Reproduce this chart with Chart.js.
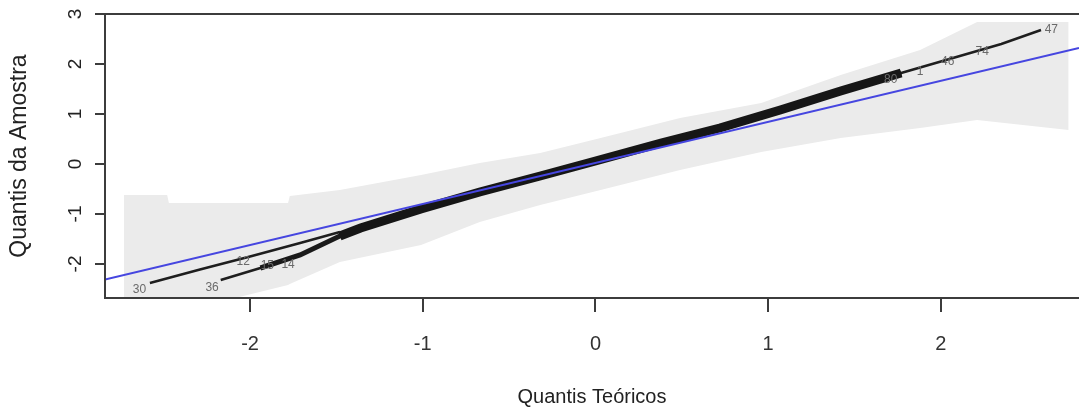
<!DOCTYPE html>
<html>
<head>
<meta charset="utf-8">
<script src="https://cdn.jsdelivr.net/npm/chart.js@4.4.1/dist/chart.umd.min.js"></script>
<style>
  html, body { margin: 0; padding: 0; background: #fff; }
  #wrap { width: 1079px; height: 412px; position: relative; }
</style>
</head>
<body>
<div id="wrap"><canvas id="qqChart"></canvas></div>
<script>
// marcas dos eixos
var xTicks = [-2, -1, 0, 1, 2];
var yTicks = [-2, -1, 0, 1, 2, 3];

// envelope de confiança
var bandaX =        [-2.73, -2.48, -2.47, -2.11, -1.78, -1.77, -1.48, -1.01, -0.67, -0.32, 0.03, 0.49, 0.96, 1.42, 1.88, 2.21, 2.74];
var bandaSuperior = [-0.62, -0.62, -0.78, -0.78, -0.78, -0.64, -0.52, -0.22, 0.02, 0.22, 0.52, 0.92, 1.22, 1.78, 2.28, 2.84, 2.84];
var bandaInferior = [-2.9, -2.9, -2.9, -2.7, -2.42, -2.40, -1.96, -1.62, -1.16, -0.82, -0.52, -0.12, 0.24, 0.52, 0.72, 0.88, 0.68];

// reta de referência
var retaX = [-2.84, 2.80];
var retaY = [-2.31, 2.32];

// quantis da amostra
var grupoAX = [-2.58, -2.29, -2.00, -1.71, -1.48];
var grupoAY = [-2.38, -2.11, -1.85, -1.58, -1.36];
var grupoBX = [-2.17, -1.94, -1.71, -1.48, -1.36];
var grupoBY = [-2.32, -2.08, -1.82, -1.44, -1.28];
var amostraX = [-1.36, -1.01, -0.67, -0.32, 0.00, 0.38, 0.72, 1.07, 1.42, 1.77, 2.11, 2.35, 2.58];
var amostraY = [-1.28, -0.90, -0.56, -0.24, 0.06, 0.42, 0.72, 1.08, 1.46, 1.82, 2.16, 2.40, 2.68];

// identificação dos pontos extremos
var rotulos = ['30', '36', '12', '15', '14', '80', '1', '46', '74', '47'];
var rotuloX = [-2.64, -2.22, -2.04, -1.90, -1.78, 1.71, 1.88, 2.04, 2.24, 2.64];
var rotuloY = [-2.52, -2.48, -1.96, -2.04, -2.02, 1.68, 1.84, 2.04, 2.24, 2.68];

function pares(xs, ys) {
    return xs.map(function (x, i) { return { x: x, y: ys[i] }; });
}

var corEixo = '#3c3c3c';
var fonteNarrow = "'Liberation Sans Narrow', 'Liberation Sans', Arial, sans-serif";
var fonteBase = "'Liberation Sans', Arial, sans-serif";

// trecho denso: onde os pontos se sobrepõem
var densoX = grupoBX.slice(1, 4).concat(amostraX.slice(0, 10));
var densoY = grupoBY.slice(1, 4).concat(amostraY.slice(0, 10));

var molduraPlugin = {
    id: 'moldura',
    afterDatasetsDraw: function (chart) {
        var a = chart.chartArea, ctx = chart.ctx;
        var sx = chart.scales.x, sy = chart.scales.y;
        ctx.save();
        ctx.strokeStyle = corEixo;
        ctx.lineWidth = 2;
        ctx.beginPath();
        ctx.moveTo(a.right, a.top);
        ctx.lineTo(a.left, a.top);
        ctx.lineTo(a.left, a.bottom);
        ctx.lineTo(a.right, a.bottom);
        ctx.stroke();

        ctx.fillStyle = '#6a6a6a';
        ctx.font = '12px ' + fonteNarrow;
        ctx.textAlign = 'center';
        ctx.textBaseline = 'middle';
        rotulos.forEach(function (t, i) {
            ctx.fillText(t, sx.getPixelForValue(rotuloX[i]), sy.getPixelForValue(rotuloY[i]));
        });
        ctx.restore();
    }
};

var ctx = document.getElementById('qqChart');

new Chart(ctx, {
    type: 'scatter',
    data: {
        datasets: [
            { data: pares(retaX, retaY), showLine: true, borderColor: '#4646e0', borderWidth: 2, pointRadius: 0 },
            { data: pares(densoX.slice(2), densoY.slice(2)), showLine: true, borderColor: '#161616', borderWidth: 9, pointRadius: 0 },
            { data: pares(densoX, densoY), showLine: true, borderColor: '#1a1a1a', borderWidth: 5, pointRadius: 0 },
            { data: pares(amostraX, amostraY), showLine: true, borderColor: '#1e1e1e', borderWidth: 2.5, pointRadius: 0 },
            { data: pares(grupoAX, grupoAY), showLine: true, borderColor: '#1e1e1e', borderWidth: 2.5, pointRadius: 0 },
            { data: pares(grupoBX, grupoBY), showLine: true, borderColor: '#1e1e1e', borderWidth: 2.5, pointRadius: 0 },
            { data: pares(bandaX, bandaSuperior), showLine: true, borderWidth: 0, pointRadius: 0,
              backgroundColor: '#ebebeb', fill: '+1' },
            { data: pares(bandaX, bandaInferior), showLine: true, borderWidth: 0, pointRadius: 0 }
        ]
    },
    options: {
        responsive: true,
        maintainAspectRatio: false,
        animation: false,
        layout: { padding: { top: 14, right: 0, bottom: 0, left: 0 } },
        plugins: {
            legend: { display: false },
            tooltip: { enabled: false }
        },
        scales: {
            x: {
                type: 'linear',
                min: -2.84,
                max: 2.80,
                afterBuildTicks: function (scale) {
                    scale.ticks = xTicks.map(function (v) { return { value: v }; });
                },
                afterFit: function (scale) {
                    scale.height = 114;
                    scale.paddingLeft = 0;
                    scale.paddingRight = 0;
                },
                border: { display: false },
                grid: { drawOnChartArea: false, drawTicks: true, tickLength: 14, color: corEixo, lineWidth: 2 },
                ticks: {
                    color: '#333',
                    padding: 20,
                    maxRotation: 0,
                    font: { family: fonteNarrow, size: 20 }
                },
                title: {
                    display: true,
                    text: 'Quantis Teóricos',
                    color: '#222',
                    padding: { top: 0, bottom: 3 },
                    font: { family: fonteNarrow, size: 20 }
                }
            },
            y: {
                type: 'linear',
                min: -2.68,
                max: 3,
                afterBuildTicks: function (scale) {
                    scale.ticks = yTicks.map(function (v) { return { value: v }; });
                },
                afterFit: function (scale) {
                    scale.width = 105;
                    scale.paddingTop = 0;
                    scale.paddingBottom = 0;
                },
                border: { display: false },
                grid: { drawOnChartArea: false, drawTicks: true, tickLength: 10, color: corEixo, lineWidth: 2 },
                ticks: {
                    color: '#222',
                    padding: 11,
                    minRotation: 90,
                    maxRotation: 90,
                    crossAlign: 'center',
                    font: { family: fonteBase, size: 19 }
                },
                title: {
                    display: true,
                    text: 'Quantis da Amostra',
                    color: '#222',
                    padding: { top: 6, bottom: 0 },
                    font: { family: fonteBase, size: 23 }
                }
            }
        }
    },
    plugins: [molduraPlugin]
});
</script>
</body>
</html>
